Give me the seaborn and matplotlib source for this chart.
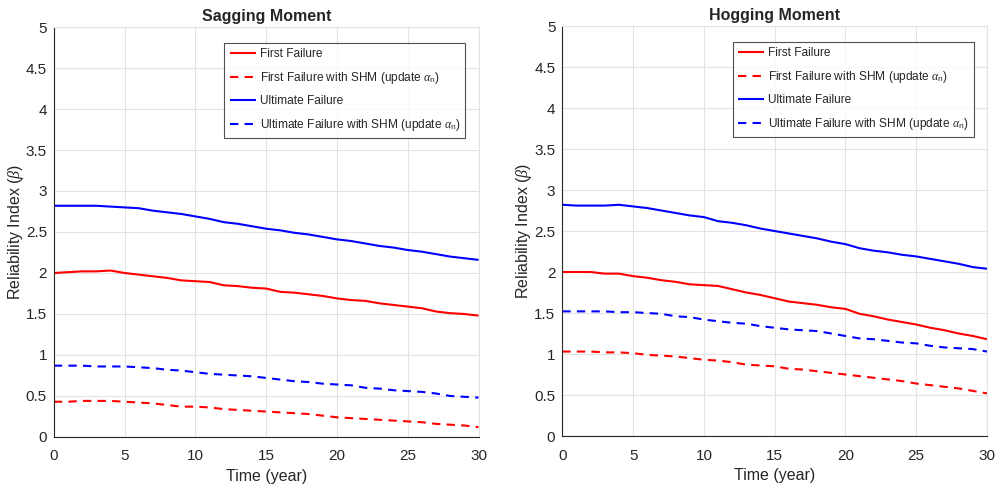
import numpy as np
import pandas as pd
import matplotlib
matplotlib.use("Agg")
import matplotlib.pyplot as plt
import seaborn as sns

# data (per year, 0..30)
years = list(range(31))

sag_first = [2.00, 2.01, 2.02, 2.02, 2.03, 2.00, 1.98, 1.96, 1.94, 1.91, 1.90, 1.89, 1.85, 1.84, 1.82, 1.81,
             1.77, 1.76, 1.74, 1.72, 1.69, 1.67, 1.66, 1.63, 1.61, 1.59, 1.57, 1.53, 1.51, 1.50, 1.48]
sag_first_shm = [0.43, 0.43, 0.44, 0.44, 0.44, 0.43, 0.42, 0.41, 0.39, 0.37, 0.37, 0.36, 0.34, 0.33, 0.32, 0.31,
                 0.30, 0.29, 0.28, 0.26, 0.24, 0.23, 0.22, 0.21, 0.20, 0.19, 0.18, 0.16, 0.15, 0.14, 0.12]
sag_ult = [2.82, 2.82, 2.82, 2.82, 2.81, 2.80, 2.79, 2.76, 2.74, 2.72, 2.69, 2.66, 2.62, 2.60, 2.57, 2.54,
           2.52, 2.49, 2.47, 2.44, 2.41, 2.39, 2.36, 2.33, 2.31, 2.28, 2.26, 2.23, 2.20, 2.18, 2.16]
sag_ult_shm = [0.87, 0.87, 0.87, 0.86, 0.86, 0.86, 0.85, 0.84, 0.82, 0.81, 0.79, 0.77, 0.76, 0.75, 0.74, 0.72,
               0.70, 0.68, 0.67, 0.65, 0.64, 0.63, 0.60, 0.59, 0.57, 0.56, 0.55, 0.53, 0.50, 0.49, 0.48]

hog_first = [2.00, 2.00, 2.00, 1.98, 1.98, 1.95, 1.93, 1.90, 1.88, 1.85, 1.84, 1.83, 1.79, 1.75, 1.72, 1.68,
             1.64, 1.62, 1.60, 1.57, 1.55, 1.49, 1.46, 1.42, 1.39, 1.36, 1.32, 1.29, 1.25, 1.22, 1.18]
hog_first_shm = [1.03, 1.03, 1.03, 1.02, 1.02, 1.01, 0.99, 0.98, 0.97, 0.95, 0.93, 0.92, 0.90, 0.87, 0.86, 0.85,
                 0.82, 0.81, 0.79, 0.77, 0.75, 0.73, 0.71, 0.69, 0.67, 0.64, 0.62, 0.60, 0.58, 0.55, 0.52]
hog_ult = [2.82, 2.81, 2.81, 2.81, 2.82, 2.80, 2.78, 2.75, 2.72, 2.69, 2.67, 2.62, 2.60, 2.57, 2.53, 2.50,
           2.47, 2.44, 2.41, 2.37, 2.34, 2.29, 2.26, 2.24, 2.21, 2.19, 2.16, 2.13, 2.10, 2.06, 2.04]
hog_ult_shm = [1.52, 1.52, 1.52, 1.52, 1.51, 1.51, 1.50, 1.49, 1.46, 1.45, 1.42, 1.40, 1.38, 1.37, 1.34, 1.32,
               1.30, 1.29, 1.28, 1.25, 1.22, 1.19, 1.18, 1.16, 1.14, 1.13, 1.10, 1.08, 1.07, 1.06, 1.03]

series_names = [
    "First Failure",
    r"First Failure with SHM (update $\alpha_{\rm n}$)",
    "Ultimate Failure",
    r"Ultimate Failure with SHM (update $\alpha_{\rm n}$)",
]
series_colors = ["#ff0000", "#ff0000", "#0000ff", "#0000ff"]
series_dashes = [(1, 0), (4, 3), (1, 0), (4, 3)]

panels = [
    ("Sagging Moment", [sag_first, sag_first_shm, sag_ult, sag_ult_shm]),
    ("Hogging Moment", [hog_first, hog_first_shm, hog_ult, hog_ult_shm]),
]

sns.set_style("whitegrid")
plt.rcParams['font.family'] = ['Liberation Sans', 'DejaVu Sans']
plt.rcParams['mathtext.fontset'] = 'custom'
plt.rcParams['mathtext.rm'] = 'Liberation Sans'
plt.rcParams['mathtext.it'] = 'Liberation Serif:italic'

fig = plt.figure(figsize=(9.97, 4.91), dpi=100)
axes_pos = [[0.054, 0.110, 0.426, 0.835], [0.564, 0.112, 0.426, 0.835]]

for pos, (title, values) in zip(axes_pos, panels):
    ax = fig.add_axes(pos)
    df = pd.DataFrame({
        "year": years * 4,
        "beta": sum(values, []),
        "series": [n for n in series_names for _ in years],
    })
    sns.lineplot(data=df, x="year", y="beta", hue="series", style="series",
                 hue_order=series_names, style_order=series_names,
                 palette=dict(zip(series_names, series_colors)),
                 dashes=dict(zip(series_names, series_dashes)),
                 linewidth=1.5, ax=ax)
    ax.set_xlim(0, 30)
    ax.set_ylim(0, 5)
    ax.set_xticks(np.arange(0, 31, 5))
    ax.set_yticks(np.arange(0, 5.01, 0.5))
    ax.set_yticklabels(["0", "0.5", "1", "1.5", "2", "2.5", "3", "3.5", "4", "4.5", "5"])
    ax.grid(color="#e3e3e3", linewidth=0.8)
    ax.tick_params(labelsize=11, colors="#262626", direction="in", length=3, pad=5)
    ax.tick_params(axis="x", pad=9)
    for side in ["left", "bottom"]:
        ax.spines[side].set_color("#262626")
        ax.spines[side].set_linewidth(0.8)
    for side in ["top", "right"]:
        ax.spines[side].set_color("#e3e3e3")
    ax.set_title(title, fontsize=11.5, fontweight="bold", pad=4)
    ax.set_xlabel("Time (year)", fontsize=11.5, labelpad=4)
    ax.set_ylabel(r"Reliability Index ($\beta$)", fontsize=11.5, labelpad=0)
    leg = ax.legend(loc="upper right", bbox_to_anchor=(0.969, 0.961), fontsize=8.6,
                    frameon=True, fancybox=False, edgecolor="#262626",
                    handlelength=2.2, handletextpad=0.3, labelspacing=0.8,
                    borderpad=0.45, borderaxespad=0)
    leg.get_frame().set_linewidth(0.8)

fig.savefig("out.png", dpi=100)
